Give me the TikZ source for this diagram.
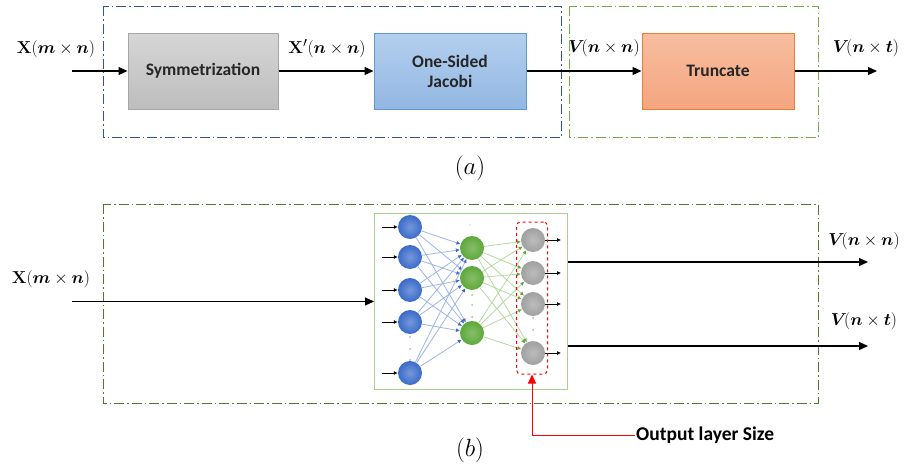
\documentclass[tikz,border=0pt]{standalone}
\usepackage{amsmath,bm}
\usepackage[no-math]{fontspec}
\setmainfont{Carlito}
\usetikzlibrary{arrows.meta}

\definecolor{frameblue}{HTML}{2F5597}
\definecolor{framegreen}{HTML}{70AD47}
\definecolor{framegreendk}{HTML}{4E7A2E}
\definecolor{grayedge}{HTML}{A6A6A6}
\definecolor{graytop}{HTML}{D6D6D6}
\definecolor{graybot}{HTML}{BDBDBD}
\definecolor{blueedge}{HTML}{5B9BD5}
\definecolor{bluetop}{HTML}{B4CFEE}
\definecolor{bluebot}{HTML}{92B7E3}
\definecolor{orangeedge}{HTML}{ED7D31}
\definecolor{orangetop}{HTML}{F7BEA0}
\definecolor{orangebot}{HTML}{F4A57F}
\definecolor{nnedge}{HTML}{A9D18E}
\definecolor{neuronblue}{HTML}{3A6BC9}
\definecolor{neurongreen}{HTML}{5EA83A}
\definecolor{neurongray}{HTML}{A0A0A0}
\definecolor{linkblue}{HTML}{9DB6E4}
\definecolor{linkgreen}{HTML}{B5D9A0}

\begin{document}
\begin{tikzpicture}[x=1pt,y=-1pt,
  arr/.style={line width=1.1pt,-{Triangle[length=9pt,width=8pt]}},
  blk/.style={draw, line width=1pt, minimum height=76pt, align=center,
    font=\fontsize{17.5}{20}\selectfont\bfseries, text=black!85},
  lab/.style={font=\fontsize{19}{22}\selectfont},
  dashdot/.style={line width=0.9pt, dash pattern=on 10pt off 3pt on 1.5pt off 3pt},
  neuron/.style={circle, minimum size=24pt, inner sep=0pt},
  inn/.style={neuron, inner color=neuronblue!70!white, outer color=neuronblue},
  hid/.style={neuron, inner color=neurongreen!75!white, outer color=neurongreen},
  outn/.style={neuron, inner color=neurongray!70!white, outer color=neurongray},
  blink/.style={draw=linkblue, line width=0.8pt, -{Latex[length=4pt,width=4pt,color=neuronblue]}},
  glink/.style={draw=linkgreen, line width=0.8pt, -{Latex[length=4pt,width=4pt,color=neurongreen]}},
  tiny/.style={line width=0.7pt, -{Latex[length=4pt,width=4pt]}},
  vdot/.style={circle, fill=gray!60, inner sep=0pt, minimum size=2pt}
]
\useasboundingbox (0,0) rectangle (905,471);

% ---------- (a) pipeline ----------
\draw[dashdot, frameblue] (103,6) rectangle (561,137);
\draw[dashdot, framegreen] (569,6) rectangle (818,137);

\node[blk, draw=grayedge, minimum width=150pt, top color=graytop, bottom color=graybot] (sym) at (203,71) {Symmetrization};
\node[blk, draw=blueedge, minimum width=152pt, top color=bluetop, bottom color=bluebot] (jac) at (450,71) {One-Sided\\Jacobi};
\node[blk, draw=orangeedge, minimum width=152pt, top color=orangetop, bottom color=orangebot] (trc) at (718,71) {Truncate};

\coordinate (xin) at (72,71);
\coordinate (vout) at (877,71);
\draw[arr] (xin) -- (sym.west);
\draw[arr] (sym.east) -- (jac.west);
\draw[arr] (jac.east) -- (trc.west);
\draw[arr] (trc.east) -- (vout);

\node[lab] (la1) at (56,49) {$\mathbf{X}(\bm{m}\times\bm{n})$};
\node[lab] (la2) at (327,49) {$\mathbf{X}'(\bm{n}\times\bm{n})$};
\node[lab] (la3) at (604,48) {$\bm{V}\!(\bm{n}\times\bm{n})$};
\node[lab] (la4) at (866,48) {$\bm{V}\!(\bm{n}\times\bm{t})$};
\node[font=\fontsize{26}{30}\selectfont] (capa) at (470,168) {$(a)$};

% ---------- (b) neural network ----------
\draw[dashdot, framegreendk] (103,204) rectangle (818,403);
\node[draw=nnedge, line width=1pt, minimum width=193pt, minimum height=176pt] (nn) at (471,301.5) {};

% neurons
\foreach \k/\y in {1/227,2/257,3/290,4/322,5/373}
  \node[inn] (i\k) at (410,\y) {};
\foreach \k/\y in {1/248,2/278,3/333}
  \node[hid] (h\k) at (472,\y) {};
\foreach \k/\y in {1/240,2/273,3/304,4/353}
  \node[outn] (o\k) at (533,\y) {};

% weights
\foreach \a in {1,...,5}
  \foreach \b in {1,2,3}
    \draw[blink] (i\a) -- (h\b);
\foreach \a in {1,2,3}
  \foreach \b in {1,...,4}
    \draw[glink] (h\a) -- (o\b);

% input and output stubs
\foreach \k/\y in {1/227,2/257,3/290,4/322,5/373}{
  \coordinate (is\k) at (382,\y);
  \draw[tiny] (is\k) -- (i\k.west);
}
\foreach \k/\y in {1/240,2/273,3/304,4/353}{
  \coordinate (os\k) at (561,\y);
  \draw[tiny] (o\k.east) -- (os\k);
}

% ellipsis dots
\foreach \y in {337,349,360} \node[vdot] at (410,\y) {};
\foreach \y in {295,305,317} \node[vdot] at (472,\y) {};
\foreach \y in {318,330,342} \node[vdot] at (533,\y) {};
\node[vdot, fill=gray!25] at (470,225) {};

% output layer highlight
\node[draw=red, dashed, line width=1pt, rounded corners=4pt, minimum width=31pt, minimum height=152pt] (ols) at (532,298) {};
\node[anchor=west, font=\fontsize{19.5}{22}\selectfont\bfseries, inner sep=1pt] (olt) at (635,435) {Output layer Size};
\draw[red, line width=1pt, -{Triangle[length=9pt,width=8pt]}] (olt.west) -| (ols.south);

% signal flow
\coordinate (xin2) at (72,301.5);
\coordinate (vnn) at (868,262);
\coordinate (vnt) at (868,346);
\draw[arr] (xin2) -- (nn.west);
\draw[arr] (nn.east |- vnn) -- (vnn);
\draw[arr] (nn.east |- vnt) -- (vnt);

\node[lab] (lb1) at (51,279) {$\mathbf{X}(\bm{m}\times\bm{n})$};
\node[lab] (lb2) at (864,241) {$\bm{V}\!(\bm{n}\times\bm{n})$};
\node[lab] (lb3) at (864,321) {$\bm{V}\!(\bm{n}\times\bm{t})$};
\node[font=\fontsize{26}{30}\selectfont] (capb) at (470,450) {$(b)$};
\end{tikzpicture}
\end{document}
